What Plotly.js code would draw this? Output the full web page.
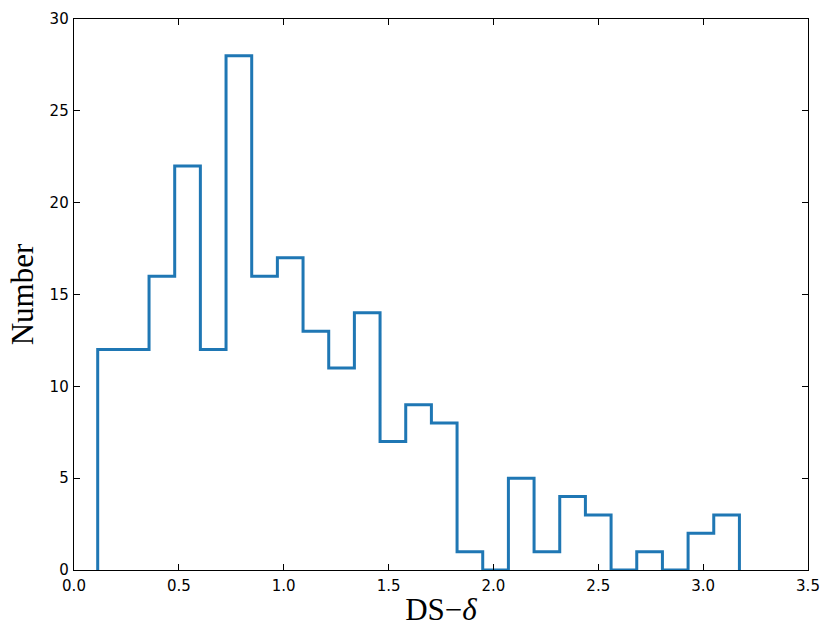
<!DOCTYPE html>
<html>
<head>
<meta charset="utf-8">
<script src="https://cdn.plot.ly/plotly-3.0.1.min.js"></script>
<style>html,body{margin:0;padding:0;background:#fff;}#chart{width:830px;height:643px;}</style>
</head>
<body>
<div id="chart"></div>
<script>
// Histogram data (step histogram)
const binStart = 0.113;
const binWidth = 0.1224;
const counts = [12, 12, 16, 22, 12, 28, 16, 17, 13, 11, 14, 7, 9, 8, 1, 0, 5, 1, 4, 3, 0, 1, 0, 2, 3];
const xTicks = [0, 0.5, 1.0, 1.5, 2.0, 2.5, 3.0, 3.5];
const xTickLabels = ["0.0", "0.5", "1.0", "1.5", "2.0", "2.5", "3.0", "3.5"];
const yTicks = [0, 5, 10, 15, 20, 25, 30];

const edges = [];
for (let i = 0; i <= counts.length; i++) edges.push(binStart + i * binWidth);
const xs = [edges[0]], ys = [0];
for (let i = 0; i < counts.length; i++) { xs.push(edges[i]); ys.push(counts[i]); }
xs.push(edges[counts.length]); ys.push(counts[counts.length - 1]);
xs.push(edges[counts.length]); ys.push(0);

const trace = {
  x: xs, y: ys, type: 'scatter', mode: 'lines',
  line: {shape: 'hv', color: '#1f77b4', width: 3},
  hoverinfo: 'skip', cliponaxis: false
};

const axisCommon = {
  showgrid: false, zeroline: false, showline: true, linecolor: '#000', linewidth: 1.3,
  mirror: 'ticks', ticks: 'inside', ticklen: 6, tickwidth: 1, tickcolor: '#000',
  tickfont: {family: 'DejaVu Sans', size: 15, color: '#000'}
};

const layout = {
  width: 830, height: 643,
  margin: {l: 74, r: 22, t: 19, b: 73},
  paper_bgcolor: '#fff', plot_bgcolor: '#fff',
  showlegend: false,
  xaxis: Object.assign({}, axisCommon, {
    range: [0, 3.5], tickvals: xTicks, ticktext: xTickLabels, ticklabelstandoff: 2,
    title: {text: 'DS\u2212<i>\u03b4</i>', font: {family: 'Liberation Serif', size: 31, color: '#000'}, standoff: 4}
  }),
  yaxis: Object.assign({}, axisCommon, {
    range: [0, 30], tickvals: yTicks, ticklabelstandoff: 1,
    title: {text: 'Number', font: {family: 'Liberation Serif', size: 31, color: '#000'}, standoff: 6}
  })
};

Plotly.newPlot('chart', [trace], layout, {displayModeBar: false, staticPlot: true});
</script>
</body>
</html>
